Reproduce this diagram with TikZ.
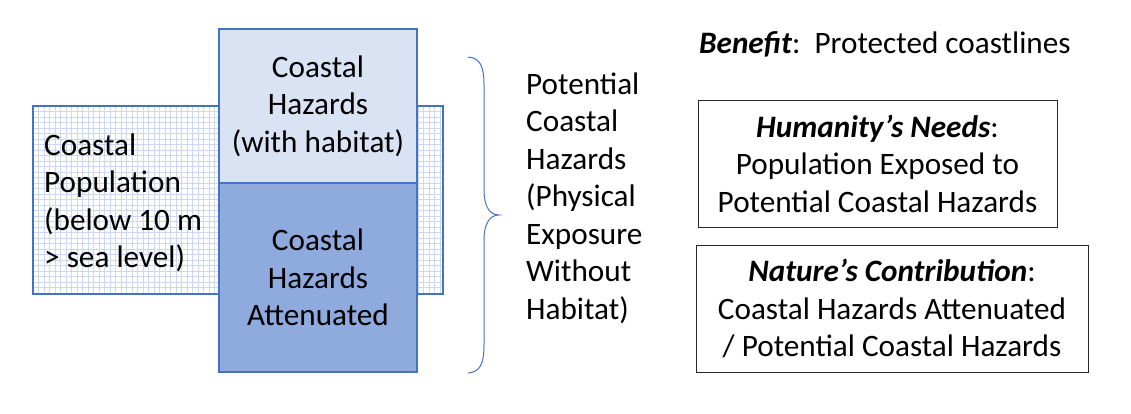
\documentclass[tikz,border=0pt]{standalone}
\usepackage{fontspec}
\setmainfont{Carlito}
\definecolor{edgeblue}{HTML}{4472C4}
\definecolor{lightfill}{HTML}{DAE3F3}
\definecolor{darkfill}{HTML}{8FAADC}
\definecolor{gridblue}{HTML}{CCD8F0}
\begin{document}
\begin{tikzpicture}[x=1pt,y=-1pt,
  every node/.style={font=\fontsize{31.2}{37.5}\selectfont, inner sep=0pt},
  hazbox/.style={draw=edgeblue, line width=1.2pt, minimum width=198pt, align=center},
  infobox/.style={draw=black!85, line width=1pt, align=center},
  gridline/.style={gridblue, line width=0.7pt}]
\useasboundingbox (0,0) rectangle (1131,413);
% grid background box
\fill[white] (33,106) rectangle (443,294);
\foreach \gx in {38.5,44,...,440} {\draw[gridline] (\gx,106) -- (\gx,294);}
\foreach \gy in {111.5,117,...,292} {\draw[gridline] (33,\gy) -- (443,\gy);}
\draw[edgeblue, line width=1.2pt] (33,106) rectangle (443,294);
\node[anchor=west, align=left] (pop) at (44,203) {Coastal\\Population\\(below 10 m\\> sea level)};
% central stacked boxes
\node[hazbox, fill=lightfill, minimum height=154pt] (with) at (318,106) {Coastal\\Hazards\\(with habitat)};
\node[hazbox, fill=darkfill, minimum height=189pt] (att) at (318,277.5) {Coastal\\Hazards\\Attenuated};
% brace
\coordinate (btop) at (468,57);
\coordinate (btip) at (499,215);
\coordinate (bbot) at (468,373);
\draw[edgeblue, line width=1pt]
  (btop) .. controls (480,58) and (484,66) .. (484,85)
  -- (484,190) .. controls (484,207) and (490,215) .. (btip)
  .. controls (490,215) and (484,223) .. (484,240)
  -- (484,345) .. controls (484,364) and (480,372) .. (bbot);
\node[anchor=west, align=left] (pot) at (526,198) {Potential\\Coastal\\Hazards\\(Physical\\Exposure\\Without\\Habitat)};
% right side
\node[anchor=base west] (ben) at (699,53) {\textbf{\textit{Benefit}}:\ \ Protected coastlines};
\node[infobox, minimum width=359pt, minimum height=127pt] (need) at (877.5,163.5) {\textbf{\textit{Humanity’s Needs}}:\\Population Exposed to\\Potential Coastal Hazards};
\node[infobox, minimum width=392pt, minimum height=127pt] (nat) at (892,308.5) {\textbf{\textit{Nature’s Contribution}}:\\Coastal Hazards Attenuated\\/ Potential Coastal Hazards};
\end{tikzpicture}
\end{document}
